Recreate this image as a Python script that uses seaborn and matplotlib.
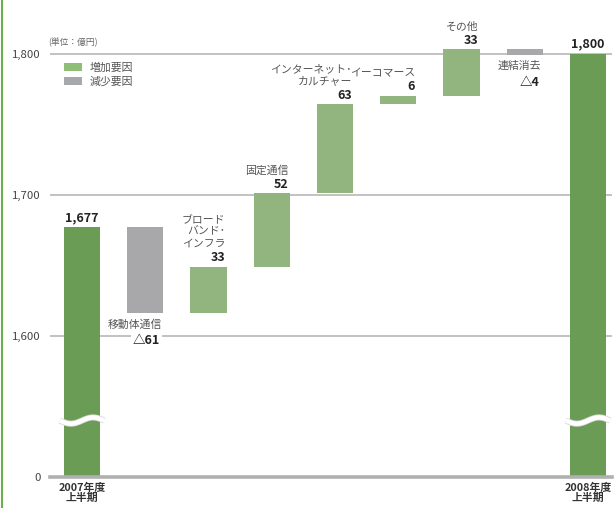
import numpy as np
import pandas as pd
import matplotlib
matplotlib.use("Agg")
import matplotlib.pyplot as plt
import matplotlib.patheffects as pe
from matplotlib.patches import Patch
from matplotlib.lines import Line2D
import seaborn as sns

# ---- data -------------------------------------------------------------
items = ["2007年度上半期", "移動体通信", "ブロード\nバンド･\nインフラ", "固定通信",
         "インターネット･\nカルチャー", "イーコマース", "その他", "連結消去", "2008年度上半期"]
values = [1677, -61, 33, 52, 63, 6, 33, -4, 1800]
kinds = ["合計", "減少要因", "増加要因", "増加要因", "増加要因",
         "増加要因", "増加要因", "減少要因", "合計"]
period_labels = ["2007年度\n上半期", "2008年度\n上半期"]
ytick_values = [0, 1600, 1700, 1800]
ytick_labels = ["0", "1,600", "1,700", "1,800"]
unit_label = "(単位：億円)"
axis_floor = 1500          # the broken axis shows this level as 0
break_level = 1540         # where the total bars carry the break mark

colors = {"合計": "#66a84a", "増加要因": "#8fbe77", "減少要因": "#a7a8ab"}
border_green = "#6cb04e"
text_gray = "#555555"

# ---- floating bar extents --------------------------------------------
bottoms, tops = [], []
running = 0
for v, k in zip(values, kinds):
    if k == "合計":
        bottoms.append(axis_floor)
        tops.append(v)
        running = v
    else:
        lo, hi = sorted([running, running + v])
        bottoms.append(lo)
        tops.append(hi)
        running += v

df = pd.DataFrame({"item": items, "top": tops, "bottom": bottoms, "kind": kinds})

sns.set_theme(style="white")
plt.rcParams["font.family"] = ["Noto Sans CJK JP", "DejaVu Sans"]

W, H = 614, 508
fig = plt.figure(figsize=(W / 100, H / 100), dpi=100)
ax = fig.add_axes([50 / W, 31 / H, 562 / W, 477 / H])

bar_w = 0.57
sns.barplot(data=df, x="item", y="top", hue="kind", palette=colors, dodge=False,
            width=bar_w, errorbar=None, legend=False, ax=ax, zorder=3,
            order=items, linewidth=0)

# lift each bar so it floats between its bottom and top
for p in ax.patches:
    i = int(round(p.get_x() + p.get_width() / 2))
    p.set_y(bottoms[i])
    p.set_height(tops[i] - bottoms[i])

ax.set_xlim(-0.506, 8.38)
ax.set_ylim(axis_floor, 1838)

# gridlines and baseline
for t in ytick_values[1:]:
    ax.axhline(t, color="#b8b8b8", lw=1.2, zorder=1)
for s in ["top", "right", "left"]:
    ax.spines[s].set_visible(False)
ax.spines["bottom"].set_color("#b0b0b0")
ax.spines["bottom"].set_linewidth(2.6)
ax.spines["bottom"].set_zorder(4)

ax.set_yticks([axis_floor if t == 0 else t for t in ytick_values])
ax.set_yticklabels(ytick_labels, fontsize=8.2, color="#444444")
ax.tick_params(axis="y", length=0, pad=7)

xt = [""] * len(items)
xt[0], xt[-1] = period_labels
ax.set_xticks(range(len(items)))
ax.set_xticklabels(xt, fontsize=7.8, fontweight="bold", color="#333333", linespacing=1.05)
ax.tick_params(axis="x", length=0, pad=4)
ax.set_xlabel("")
ax.set_ylabel("")

# break marks on the total bars
for i, k in enumerate(kinds):
    if k == "合計":
        xs = np.linspace(i - 0.35, i + 0.35, 60)
        ys = break_level + 2.2 * np.sin((xs - i) / 0.7 * 2 * np.pi)
        ax.plot(xs, ys, color="white", lw=3.2, zorder=5, solid_capstyle="butt",
                path_effects=[pe.Stroke(linewidth=4.4, foreground="#d8d8d8"), pe.Normal()])

# labels
px = 0.72  # points per pixel
for i, (name, v, k) in enumerate(zip(items, values, kinds)):
    right = i + bar_w / 2 - 0.02
    if k == "合計":
        ax.annotate(f"{v:,}", xy=(i, tops[i]), xytext=(0, 3 * px), textcoords="offset points",
                    ha="center", va="bottom", fontsize=9, fontweight="bold", color="#222222",
                    zorder=6)
    elif k == "増加要因":
        ax.annotate(str(v), xy=(right, tops[i]), xytext=(0, 9 * px), textcoords="offset points",
                    ha="right", va="center", fontsize=9, fontweight="semibold", color="#222222",
                    zorder=6)
        ax.annotate(name, xy=(right, tops[i]), xytext=(0, 18 * px), textcoords="offset points",
                    ha="right", va="bottom", fontsize=7.8, color=text_gray, linespacing=1.25,
                    zorder=6)
    else:
        ax.annotate(name, xy=(right, bottoms[i]), xytext=(0, -11 * px), textcoords="offset points",
                    ha="right", va="center", fontsize=7.8, color=text_gray, zorder=6)
        ax.annotate(f"△{abs(v)}", xy=(right - 0.03, bottoms[i]), xytext=(0, -27 * px),
                    textcoords="offset points", ha="right", va="center", fontsize=9,
                    fontweight="semibold", color="#222222", zorder=6,
                    bbox=dict(boxstyle="square,pad=0.15", fc="white", ec="none"))

# unit note and legend
fig.text(48 / W, 1 - 42 / H, unit_label, fontsize=6.3, color="#666666", ha="left", va="center")
handles = [Patch(facecolor=colors["増加要因"], edgecolor="none", label="増加要因"),
           Patch(facecolor=colors["減少要因"], edgecolor="none", label="減少要因")]
fig.legend(handles=handles, loc="upper left", bbox_to_anchor=(64 / W, 1 - 62 / H),
           frameon=False, fontsize=7.8, labelcolor=text_gray, handlelength=1.65,
           handleheight=0.75, handletextpad=0.7, labelspacing=0.35, borderpad=0,
           borderaxespad=0)

# green frame line on the left edge
fig.add_artist(Line2D([2 / W, 2 / W], [0, 1], transform=fig.transFigure,
                      color=border_green, lw=1.5))

fig.savefig("out.png", dpi=100)
